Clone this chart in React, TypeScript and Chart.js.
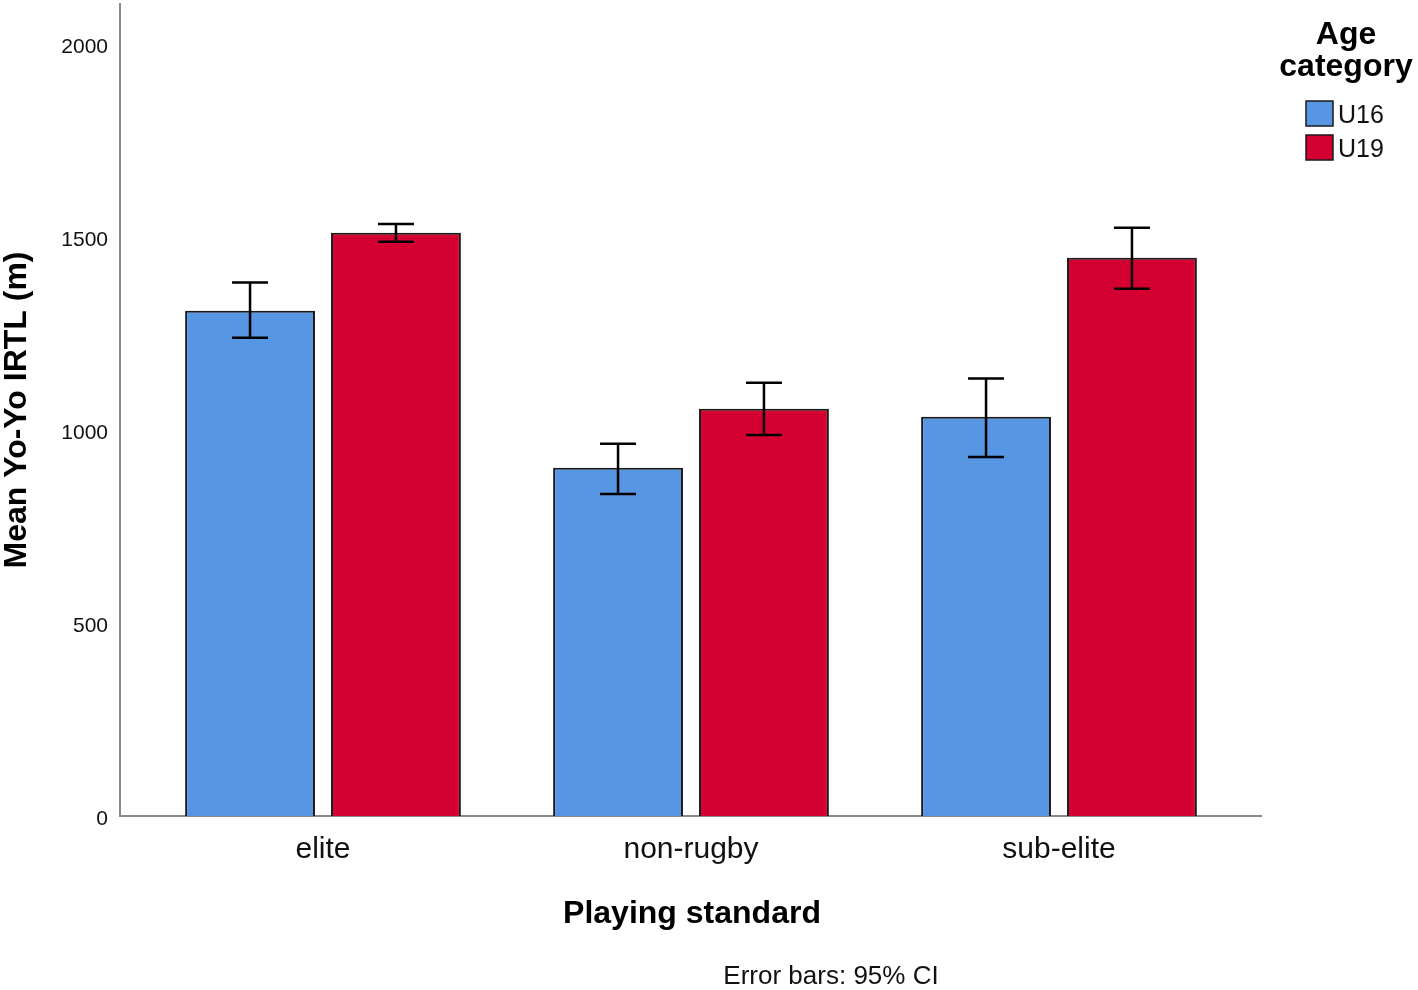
import React, { useEffect, useRef } from 'react';
import { Chart, registerables } from 'chart.js';

Chart.register(...registerables);

const categories = ['elite', 'non-rugby', 'sub-elite'];
const seriesNames = ['U16', 'U19'];
const seriesColors = ['#5796E3', '#D50032'];
const u16Mean = [1310, 903, 1035];
const u16Low = [1240, 835, 931];
const u16High = [1383, 965, 1134];
const u19Mean = [1512, 1056, 1447];
const u19Low = [1489, 988, 1367];
const u19High = [1535, 1123, 1525];
const yTickValues = [0, 500, 1000, 1500, 2000];
const yMax = 2100;

const FONT = '"Liberation Sans", Arial, sans-serif';

const errorBarPlugin = {
  id: 'errorBars',
  afterDatasetsDraw(chart: any) {
    const ctx = chart.ctx;
    const y = chart.scales.y;
    const lows = [u16Low, u19Low];
    const highs = [u16High, u19High];
    ctx.save();
    ctx.strokeStyle = '#000';
    ctx.lineWidth = 2.5;
    chart.data.datasets.forEach((_ds: any, di: number) => {
      const meta = chart.getDatasetMeta(di);
      meta.data.forEach((bar: any, i: number) => {
        const x = bar.x;
        const yl = y.getPixelForValue(lows[di][i]);
        const yh = y.getPixelForValue(highs[di][i]);
        const cap = 18;
        ctx.beginPath();
        ctx.moveTo(x, yl);
        ctx.lineTo(x, yh);
        ctx.moveTo(x - cap, yl);
        ctx.lineTo(x + cap, yl);
        ctx.moveTo(x - cap, yh);
        ctx.lineTo(x + cap, yh);
        ctx.stroke();
      });
    });
    ctx.restore();
  },
};

const axisPlugin = {
  id: 'axisLines',
  beforeDatasetsDraw(chart: any) {
    const ctx = chart.ctx;
    const a = chart.chartArea;
    const ext = 19;
    ctx.save();
    ctx.strokeStyle = '#8a8a8a';
    ctx.lineWidth = 2;
    ctx.beginPath();
    ctx.moveTo(a.left - ext, 3);
    ctx.lineTo(a.left - ext, a.bottom);
    ctx.lineTo(a.right + ext, a.bottom);
    ctx.stroke();
    ctx.restore();
  },
  afterDraw(chart: any) {
    const ctx = chart.ctx;
    ctx.save();
    ctx.fillStyle = '#000';
    // y axis title
    ctx.save();
    ctx.translate(17, 410);
    ctx.rotate(-Math.PI / 2);
    ctx.font = `bold 32px ${FONT}`;
    ctx.textAlign = 'center';
    ctx.textBaseline = 'middle';
    ctx.fillText('Mean Yo-Yo IRTL (m)', 0, 0);
    ctx.restore();
    // x axis title
    ctx.font = `bold 32px ${FONT}`;
    ctx.textAlign = 'center';
    ctx.textBaseline = 'middle';
    ctx.fillText('Playing standard', 692, 914);
    // footnote
    ctx.font = `26px ${FONT}`;
    ctx.fillStyle = '#111';
    ctx.fillText('Error bars: 95% CI', 831, 977);
    // legend title
    ctx.fillStyle = '#000';
    ctx.font = `bold 32px ${FONT}`;
    ctx.fillText('Age', 1346, 35);
    ctx.fillText('category', 1346, 67);
    // legend items
    const boxY = [101, 135];
    seriesNames.forEach((name, i) => {
      ctx.fillStyle = seriesColors[i];
      ctx.fillRect(1306, boxY[i], 27, 25);
      ctx.strokeStyle = '#1a1a1a';
      ctx.lineWidth = 1.5;
      ctx.strokeRect(1306, boxY[i], 27, 25);
      ctx.fillStyle = '#111';
      ctx.font = `25px ${FONT}`;
      ctx.textAlign = 'left';
      ctx.textBaseline = 'middle';
      ctx.fillText(name, 1338, boxY[i] + 15);
    });
    ctx.restore();
  },
};

export default function App() {
  const canvasRef = useRef<HTMLCanvasElement>(null);

  useEffect(() => {
    if (!canvasRef.current) return;
    const chart = new Chart(canvasRef.current, {
      type: 'bar',
      data: {
        labels: categories,
        datasets: [
          {
            label: seriesNames[0],
            data: u16Mean,
            backgroundColor: seriesColors[0],
            borderColor: '#1a1a1a',
            borderWidth: 2,
            categoryPercentage: 0.793,
            barPercentage: 0.89,
          },
          {
            label: seriesNames[1],
            data: u19Mean,
            backgroundColor: seriesColors[1],
            borderColor: '#1a1a1a',
            borderWidth: 2,
            categoryPercentage: 0.793,
            barPercentage: 0.89,
          },
        ],
      },
      options: {
        responsive: false,
        animation: false,
        layout: { padding: { left: 0, top: 6, right: 175, bottom: 0 } },
        plugins: {
          legend: { display: false },
          tooltip: { enabled: false },
        },
        scales: {
          x: {
            grid: { display: false, drawTicks: false },
            border: { display: false },
            ticks: {
              color: '#111',
              font: { family: FONT, size: 30 },
              padding: 16,
            },
            afterFit(scale: any) {
              scale.height = 174;
              scale.paddingLeft = 0;
              scale.paddingRight = 0;
            },
          },
          y: {
            min: 0,
            max: yMax,
            grid: { display: false, drawTicks: false },
            border: { display: false },
            ticks: {
              color: '#111',
              font: { family: FONT, size: 21 },
              padding: 31,
              stepSize: 500,
              labelOffset: 3,
              callback: (v: any) => String(v),
            },
            afterBuildTicks(scale: any) {
              scale.ticks = yTickValues.map((v) => ({ value: v }));
            },
            afterFit(scale: any) {
              scale.width = 139;
              scale.paddingTop = 0;
              scale.paddingBottom = 0;
            },
          },
        },
      },
      plugins: [axisPlugin, errorBarPlugin],
    });
    return () => chart.destroy();
  }, []);

  return (
    <div style={{ position: 'fixed', left: 0, top: 0, width: 1418, height: 990, background: '#fff' }}>
      <canvas ref={canvasRef} width={1418} height={990} style={{ width: 1418, height: 990 }} />
    </div>
  );
}
